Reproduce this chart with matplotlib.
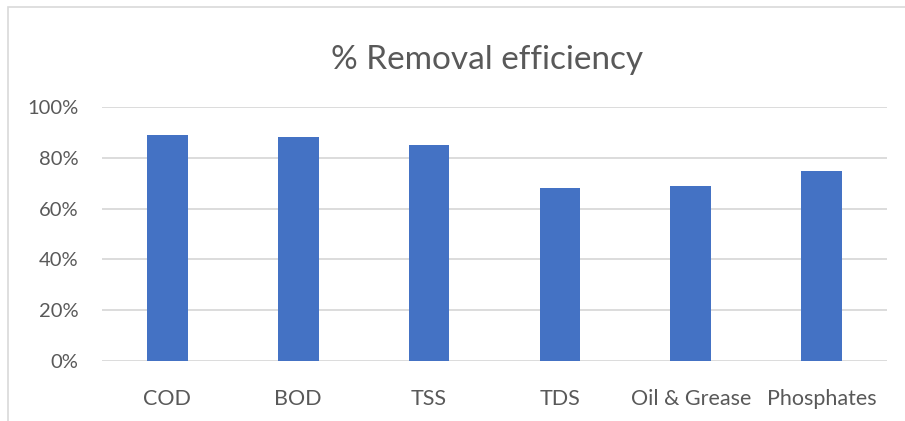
import matplotlib

matplotlib.use("Agg")
import matplotlib.pyplot as plt
from matplotlib.patches import Rectangle
from matplotlib.ticker import FuncFormatter, MultipleLocator

# values
categories = ["COD", "BOD", "TSS", "TDS", "Oil & Grease", "Phosphates"]
removal = [0.89, 0.88, 0.85, 0.68, 0.69, 0.75]

BAR = "#4472C4"
GRID = "#D9D9D9"
TEXT = "#595959"

plt.rcParams["font.family"] = ["Lato", "DejaVu Sans"]

W, H = 905, 421
fig = plt.figure(figsize=(W / 100, H / 100), dpi=100)
ax = fig.add_axes([102 / W, 1 - 361 / H, (887 - 102) / W, (361 - 107) / H])

x = range(len(categories))
ax.bar(x, removal, width=0.31, color=BAR, zorder=3)

ax.set_xlim(-0.5, len(categories) - 0.5)
ax.set_ylim(0, 1.0)
ax.yaxis.set_major_locator(MultipleLocator(0.2))
ax.yaxis.set_major_formatter(FuncFormatter(lambda v, _: f"{v * 100:.0f}%"))
ax.set_xticks(list(x))
ax.set_xticklabels(categories)

ax.grid(True, axis="y", color=GRID, lw=1.3, zorder=0)
for s in ax.spines.values():
    s.set_visible(False)
ax.tick_params(axis="both", length=0, colors=TEXT)
ax.tick_params(axis="x", labelsize=15.5, pad=20)
ax.tick_params(axis="y", labelsize=14.5, pad=17)

fig.text(0.538, 1 - 60 / H, "% Removal efficiency", ha="center", va="center",
         fontsize=24, color=TEXT)

# light chart-area border (cropped on the right and bottom)
fig.patches.append(Rectangle((8 / W, -0.1), 1.0, 1.1 - 7 / H,
                             transform=fig.transFigure, fill=False,
                             ec=GRID, lw=1.2))

fig.savefig("out.png", dpi=100)
